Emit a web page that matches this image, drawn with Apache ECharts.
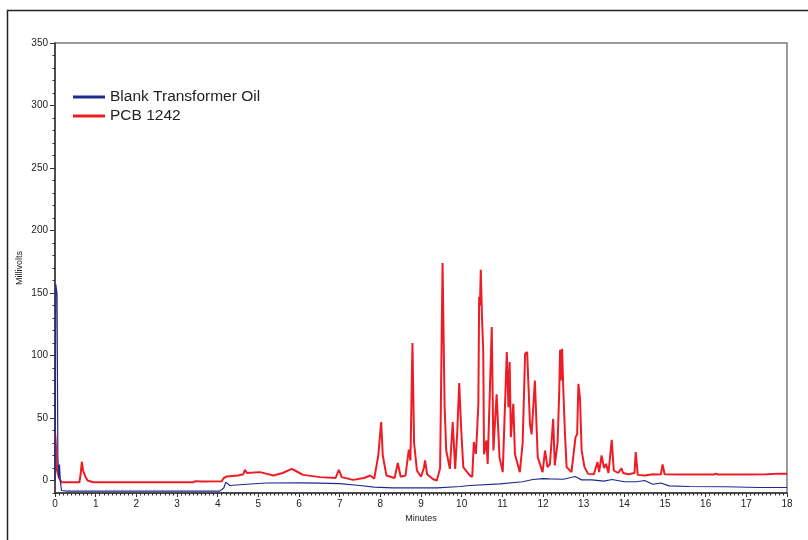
<!DOCTYPE html>
<html>
<head>
<meta charset="utf-8">
<script src="https://cdn.jsdelivr.net/npm/echarts@6/dist/echarts.min.js"></script>
<style>
html, body { margin: 0; padding: 0; background: #fff; }
#chart { width: 808px; height: 540px; }
</style>
</head>
<body>
<div id="chart"></div>
<script>
// PCB 1242 run, minutes vs millivolts
const pcbTime = [0, 0.02, 0.05, 0.1, 0.16, 0.6, 0.63, 0.66, 0.69, 0.74, 0.8, 0.94,
  2.8, 2.83, 2.86, 3.4, 3.45, 3.6, 4.1, 4.15, 4.22, 4.5, 4.63, 4.67, 4.72, 5.04, 5.37, 5.6, 5.82, 5.9,
  6.1, 6.52, 6.9, 6.98, 7.05, 7.33, 7.6, 7.75, 7.85, 7.95, 8.02, 8.06, 8.15, 8.35, 8.43, 8.5, 8.62,
  8.7, 8.74, 8.79, 8.83, 8.9, 9.0, 9.07, 9.1, 9.15, 9.3, 9.39, 9.47, 9.53, 9.58, 9.62, 9.65, 9.71,
  9.78, 9.84, 9.89, 9.94, 9.99, 10.04, 10.2, 10.26, 10.3, 10.35, 10.38, 10.41, 10.43, 10.45, 10.47,
  10.5, 10.53, 10.55, 10.61, 10.64, 10.74, 10.78, 10.86, 10.93, 11.01, 11.11, 11.15, 11.18, 11.21,
  11.27, 11.31, 11.43, 11.5, 11.56, 11.61, 11.68, 11.72, 11.8, 11.87, 11.99, 12.05, 12.11, 12.17,
  12.25, 12.29, 12.36, 12.4, 12.42, 12.45, 12.47, 12.5, 12.54, 12.58, 12.7, 12.8, 12.84, 12.87,
  12.91, 12.95, 13.02, 13.11, 13.25, 13.34, 13.38, 13.44, 13.5, 13.55, 13.61, 13.69, 13.74, 13.85,
  13.93, 13.97, 14.1, 14.25, 14.28, 14.33, 14.51, 14.7, 14.74, 14.8, 14.9, 14.94, 14.99, 15.4,
  15.43, 15.48, 16.2, 16.25, 16.3, 17.0, 17.5, 17.8, 18];
const pcbValue = [39, 30, 8, 2, -1.4, -1.4, 5, 15, 8, 3.5, 0, -1.4,
  -1.4, -0.5, -1.4, -1.4, -0.5, -0.8, -0.6, 2, 3.2, 4, 5, 8.5, 6, 6.7, 4, 6, 9.3, 8,
  4.5, 2.7, 2, 8.5, 2.7, 0.5, 2, 4, 1.5, 20, 46.7, 20, 4, 2, 14, 3, 4,
  24.8, 16, 110, 30, 8, 3, 10, 16, 5, 1, 0, 10, 174, 60, 24, 22.7, 9.3,
  46.7, 9.3, 37.4, 78, 40, 10.7, 4, 3, 30.7, 21.3, 40, 61, 147, 140, 168.6,
  130, 104, 21, 32, 13.3, 122.7, 24, 69, 18.7, 6.7, 102.7, 58.7, 94.7, 34.7,
  61.4, 21, 6.7, 30, 101.4, 102.7, 45, 37, 80, 18.7, 6.7, 24, 10.7, 13,
  49.4, 12, 30.7, 72, 104.6, 80, 105.4, 72, 37.4, 10.7, 6.7, 34.7, 37, 77.4,
  66, 24, 10.7, 5.3, 5, 14.7, 6.7, 20, 10, 13.3, 6, 32.5, 8, 6,
  9.8, 6, 5, 6, 22.7, 4.5, 4, 5, 6.5, 4.8, 5, 12.8, 5, 4.8,
  6.4, 4.8, 4.8, 5.5, 4.8, 4.8, 5, 5.5, 5.5];

// blank transformer oil run
const blankTime = [0, 0.02, 0.05, 0.07, 0.09, 0.11, 0.13, 0.16, 0.3, 4.05, 4.15, 4.2, 4.3, 4.63,
  5.2, 6.0, 6.5, 7.0, 7.5, 7.85, 8.3, 9.4, 9.96, 10.2, 10.94, 11.5, 11.75, 12.0, 12.16, 12.5,
  12.79, 12.95, 13.2, 13.5, 13.7, 14.0, 14.3, 14.5, 14.7, 14.9, 15.1, 15.6, 16.5, 17.3, 18];
const blankValue = [0, 157, 149, 20, 2, 12.8, 0, -8, -8.5, -8.5, -6, -1.3, -4, -3.2,
  -2, -1.9, -2.1, -2.5, -4, -5.3, -5.9, -5.9, -4.8, -4, -2.7, -1, 0.8, 1.5, 1.3, 1,
  3.2, 0.5, 0.5, -0.5, 0.8, -1, -1, 0, -3, -2, -4.3, -4.8, -5, -5.6, -5.6];

const yLabelValues = [0, 50, 100, 150, 200, 250, 300, 350];

const pair = (t, v) => t.map((x, i) => [x, v[i]]);

const chart = echarts.init(document.getElementById('chart'));
const font = 'Liberation Sans, Arial, sans-serif';

chart.setOption({
  backgroundColor: '#fff',
  animation: false,
  graphic: [
    {
      type: 'rect',
      shape: { x: 7.5, y: 10.5, width: 820, height: 560 },
      style: { fill: 'none', stroke: '#222', lineWidth: 1.5 },
      silent: true
    },
    {
      // y axis title, placed by hand so it sits where the original has it
      type: 'text',
      x: 20,
      y: 268,
      rotation: Math.PI / 2,
      style: {
        text: 'Millivolts',
        fontFamily: font,
        fontSize: 9,
        fill: '#222',
        align: 'center',
        verticalAlign: 'middle'
      },
      silent: true
    }
  ],
  legend: {
    left: 68,
    top: 84,
    orient: 'vertical',
    itemWidth: 32,
    itemHeight: 3,
    itemGap: 3,
    icon: 'rect',
    textStyle: { fontFamily: font, fontSize: 15.5, color: '#222' },
    data: ['Blank Transformer Oil', 'PCB 1242']
  },
  grid: {
    left: 55,
    right: 21,
    top: 43,
    bottom: 47,
    show: true,
    borderColor: '#7a7a7a',
    borderWidth: 1.5
  },
  xAxis: {
    type: 'value',
    min: 0,
    max: 18,
    interval: 1,
    name: 'Minutes',
    nameLocation: 'middle',
    nameGap: 19,
    nameTextStyle: { fontFamily: font, fontSize: 9, color: '#222' },
    axisLine: { onZero: false, lineStyle: { color: '#333', width: 1.5 } },
    axisTick: { length: 4, lineStyle: { color: '#333' } },
    minorTick: { show: true, splitNumber: 10, length: 2.5, lineStyle: { color: '#333' } },
    axisLabel: { fontFamily: font, fontSize: 10, color: '#222', margin: 6 },
    splitLine: { show: false }
  },
  yAxis: [
    {
      type: 'value',
      min: -10,
      max: 350,
      interval: 10,
      axisLine: { show: true, lineStyle: { color: '#333', width: 1.5 } },
      axisTick: { show: true, length: 2.5, lineStyle: { color: '#333' } },
      axisLabel: {
        fontFamily: font, fontSize: 10, color: '#222', margin: 7,
        formatter: v => (v >= 0 && v % 50 === 0) ? v : ''
      },
      splitLine: { show: false }
    },
    {
      type: 'value',
      position: 'left',
      min: -10,
      max: 350,
      axisLine: { show: false },
      axisTick: { show: true, length: 5, customValues: yLabelValues, lineStyle: { color: '#333' } },
      axisLabel: { show: false },
      splitLine: { show: false }
    }
  ],
  series: [
    {
      name: 'Blank Transformer Oil',
      type: 'line',
      showSymbol: false,
      color: '#1f2a8f',
      lineStyle: { width: 1.2 },
      data: pair(blankTime, blankValue),
      z: 3
    },
    {
      name: 'PCB 1242',
      type: 'line',
      showSymbol: false,
      color: '#ee1c25',
      lineStyle: { width: 2 },
      data: pair(pcbTime, pcbValue),
      z: 2
    }
  ]
});
</script>
</body>
</html>
